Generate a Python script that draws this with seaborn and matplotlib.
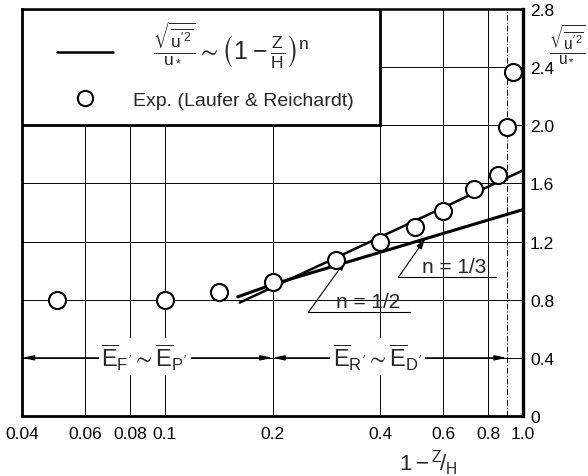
import matplotlib
matplotlib.use("Agg")
import matplotlib.pyplot as plt
import seaborn as sns
from matplotlib import font_manager
from matplotlib.ticker import NullFormatter, FixedLocator
from matplotlib.patches import Rectangle

# ---------------- data ----------------
exp_x = [0.05, 0.10, 0.142, 0.20, 0.30, 0.40, 0.50, 0.60, 0.73, 0.85, 0.90, 0.935]
exp_y = [0.80, 0.80, 0.855, 0.92, 1.075, 1.20, 1.30, 1.41, 1.56, 1.66, 1.99, 2.365]

half_x = [0.162, 1.0]          # n = 1/2 curve
half_y = [0.78, 1.69]
third_x = [0.16, 0.20, 1.0]    # n = 1/3 curve
third_y = [0.82, 0.905, 1.42]

x_ticks = [0.04, 0.06, 0.08, 0.1, 0.2, 0.4, 0.6, 0.8, 1.0]
x_tick_labels = ["0.04", "0.06", "0.08", "0.1", "0.2", "0.4", "0.6", "0.8", "1.0"]
y_ticks = [0, 0.4, 0.8, 1.2, 1.6, 2.0, 2.4, 2.8]
y_tick_labels = ["0", "0.4", "0.8", "1.2", "1.6", "2.0", "2.4", "2.8"]

# ---------------- style ----------------
sns.set_style("white")
names = {f.name for f in font_manager.fontManager.ttflist}
face = "Liberation Sans Narrow" if "Liberation Sans Narrow" in names else "Liberation Sans"
plt.rcParams["font.family"] = [face, "DejaVu Sans"]
plt.rcParams["mathtext.fontset"] = "custom"
plt.rcParams["mathtext.rm"] = face
plt.rcParams["mathtext.it"] = face
plt.rcParams["mathtext.bf"] = face
plt.rcParams["mathtext.sf"] = face
plt.rcParams["mathtext.fallback"] = "stixsans"

fig = plt.figure(figsize=(5.88, 4.77), dpi=100)
ax = fig.add_axes([22 / 588, 60 / 477, 501 / 588, 407 / 477])
ax.set_xscale("log")
ax.set_xlim(0.04, 1.0)
ax.set_ylim(0, 2.8)

# grid
ax.xaxis.set_major_locator(FixedLocator(x_ticks))
ax.set_xticklabels(x_tick_labels)
ax.xaxis.set_minor_locator(FixedLocator([0.9]))
ax.xaxis.set_minor_formatter(NullFormatter())
ax.set_yticks(y_ticks)
ax.set_yticklabels(y_tick_labels)
ax.grid(True, which="major", color="black", lw=0.7, zorder=0)
ax.grid(True, which="minor", axis="x", color="black", lw=0.7, ls=(0, (6, 2, 1, 2)), zorder=0)
ax.yaxis.tick_right()
ax.tick_params(axis="both", which="both", length=0, labelsize=12.5, colors="black")
ax.tick_params(axis="x", pad=7)
ax.tick_params(axis="y", pad=5)
for side, lw in [("left", 2.0), ("bottom", 2.0), ("top", 1.8), ("right", 2.4)]:
    ax.spines[side].set_visible(True)
    ax.spines[side].set_color("black")
    ax.spines[side].set_linewidth(lw)

# curves
sns.lineplot(x=half_x, y=half_y, ax=ax, color="black", lw=1.8, zorder=3, legend=False)
sns.lineplot(x=third_x, y=third_y, ax=ax, color="black", lw=2.2, zorder=3, legend=False)
# experimental points
sns.scatterplot(x=exp_x, y=exp_y, ax=ax, s=150, marker="o", facecolor="white",
                edgecolor="black", linewidth=1.5, zorder=5, legend=False)

# n annotations
ann_kw = dict(arrowstyle="-|>,head_length=0.6,head_width=0.18", color="black", lw=0.8,
              shrinkA=0, shrinkB=0)
ax.plot([0.2517, 0.4837], [0.713, 0.713], color="black", lw=0.8, zorder=4)
ax.annotate("", xy=(0.32, 1.07), xytext=(0.2517, 0.713), arrowprops=ann_kw, zorder=4)
ax.text(0.369, 0.725, "n = 1/2", fontsize=15, ha="center", va="bottom", zorder=6)
ax.plot([0.449, 0.8417], [0.954, 0.954], color="black", lw=0.8, zorder=4)
ax.annotate("", xy=(0.533, 1.218), xytext=(0.449, 0.954), arrowprops=ann_kw, zorder=4)
ax.text(0.642, 0.966, "n = 1/3", fontsize=15, ha="center", va="bottom", zorder=6)

# dimension arrows at y = 0.4
dim_kw = dict(arrowstyle="<|-|>,head_length=0.7,head_width=0.15", color="black", lw=0.9,
              shrinkA=0, shrinkB=0)
ax.annotate("", xy=(0.04, 0.4), xytext=(0.2, 0.4), arrowprops=dim_kw, zorder=4)
ax.annotate("", xy=(0.2, 0.4), xytext=(0.9, 0.4), arrowprops=dim_kw, zorder=4)
box = dict(facecolor="white", edgecolor="none", pad=2)
ax.text(0.088, 0.41, r"$\overline{E}_{F'}\sim\overline{E}_{P'}$", fontsize=17,
        ha="center", va="center", bbox=box, zorder=6)
ax.text(0.393, 0.41, r"$\overline{E}_{R'}\sim\overline{E}_{D'}$", fontsize=17,
        ha="center", va="center", bbox=box, zorder=6)

# legend (frame = upper-left grid cell)
ax.add_patch(Rectangle((0, 2.0 / 2.8), 1 / 1.39794, 0.8 / 2.8, transform=ax.transAxes,
                       facecolor="white", edgecolor="black", lw=2.0, zorder=7))
h_line = plt.Line2D([], [], color="black", lw=1.8)
h_pt = plt.Line2D([], [], ls="none", marker="o", ms=11, mfc="white", mec="black", mew=1.5)
leg = ax.legend([h_line, h_pt],
                [r"$\quad\frac{\sqrt{\overline{u'^2}}}{u_*}\sim\left(1-\frac{Z}{H}\right)^n$",
                 "Exp. (Laufer & Reichardt)"],
                loc="upper left", bbox_to_anchor=(0.07, 0.975), frameon=False,
                fontsize=14, borderpad=0, borderaxespad=0, handlelength=2.9,
                handletextpad=1.0, labelspacing=1.1)
leg.get_texts()[0].set_fontsize(18)
leg.set_zorder(8)

# axis labels
ax.text(1.088, 0.918, r"$\frac{\sqrt{\overline{u'^2}}}{u_*}$", transform=ax.transAxes,
        fontsize=16, ha="center", va="center")
ax.text(0.81, -0.113, r"$1-{}^{Z}\!/_{H}$", transform=ax.transAxes,
        fontsize=16, ha="center", va="center")

fig.savefig("out.png", dpi=100)
